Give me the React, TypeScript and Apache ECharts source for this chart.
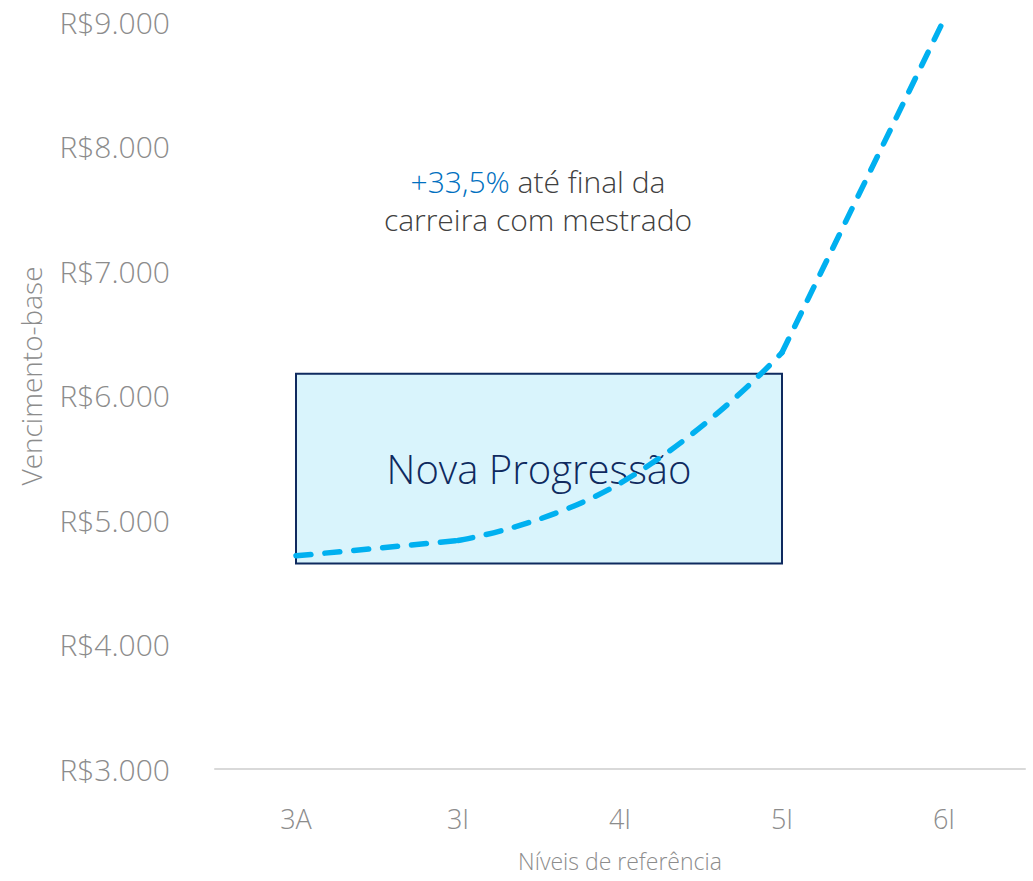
import React, { useEffect, useRef } from "react";
import * as echarts from "echarts";

const categories = ["3A", "3I", "4I", "5I", "6I"];
const salaries = [4712, 4835, 5295, 6345, 9020];
const yTicks = { min: 3000, max: 9000, interval: 1000 };
const progressionBox = { from: "3A", to: "5I", low: 4650, high: 6175, label: "Nova Progressão" };
const annotation = { highlight: "+33,5%", line1: " até final da", line2: "carreira com mestrado" };
const yAxisName = "Vencimento-base";
const xAxisName = "Níveis de referência";
// the curve is straight from 3A to 3I, smoothed from 3I to 5I, straight from 5I to 6I
const segments = [
  { from: 0, to: 1, smooth: 0 },
  { from: 1, to: 3, smooth: 0.5 },
  { from: 3, to: 4, smooth: 0 },
];

const FONT = "'Open Sans', 'Segoe UI', sans-serif";
const LINE_STYLE = { color: "#00b0f0", width: 5.5, type: [15, 14], cap: "round" };

export default function App() {
  const ref = useRef<HTMLDivElement>(null);
  useEffect(() => {
    if (!ref.current) return;
    const chart = echarts.init(ref.current, null, { renderer: "svg" });
    const lineSeries = segments.map((seg, i) => ({
      type: "line",
      name: "Vencimento-base",
      data: salaries.map((v, idx) => (idx >= seg.from && idx <= seg.to ? v : null)),
      smooth: seg.smooth,
      symbol: "none",
      z: 3,
      lineStyle: LINE_STYLE,
      ...(i === 0
        ? {
            markArea: {
              silent: true,
              z: 1,
              itemStyle: { color: "#d9f4fc", borderColor: "#0f2a5f", borderWidth: 2 },
              label: {
                show: true,
                position: "inside",
                color: "#0f2a5f",
                fontSize: 40,
                fontWeight: 300,
                fontFamily: FONT,
              },
              data: [
                [
                  { name: progressionBox.label, coord: [progressionBox.from, progressionBox.high] },
                  { coord: [progressionBox.to, progressionBox.low] },
                ],
              ],
            },
          }
        : {}),
    }));
    chart.setOption({
      animation: false,
      backgroundColor: "#ffffff",
      textStyle: { fontFamily: FONT },
      grid: { left: 215, right: 8, top: 22, bottom: 112, outerBoundsMode: "none", containLabel: false },
      xAxis: {
        type: "category",
        data: categories,
        boundaryGap: true,
        axisLine: { lineStyle: { color: "#d9d9d9", width: 2 } },
        axisTick: { show: false },
        axisLabel: { color: "#8c8c8c", fontSize: 27, fontWeight: 300, margin: 36, fontFamily: FONT },
        name: xAxisName,
        nameLocation: "middle",
        nameGap: 80,
        nameTextStyle: { color: "#8c8c8c", fontSize: 23, fontWeight: 300, fontFamily: FONT },
      },
      yAxis: {
        type: "value",
        min: yTicks.min,
        max: yTicks.max,
        interval: yTicks.interval,
        splitLine: { show: false },
        axisLine: { show: false },
        axisTick: { show: false },
        axisLabel: {
          color: "#8c8c8c",
          fontSize: 30,
          fontWeight: 300,
          margin: 45,
          fontFamily: FONT,
          formatter: (v: number) => "R$" + v.toLocaleString("de-DE"),
        },
      },
      series: lineSeries,
      graphic: [
        {
          type: "text",
          x: 538,
          y: 200,
          style: {
            text: `{b|${annotation.highlight}}{g|${annotation.line1}}\n{g|${annotation.line2}}`,
            align: "center",
            verticalAlign: "middle",
            rich: {
              b: { fill: "#0070c0", fontSize: 30, fontFamily: FONT, lineHeight: 38, fontWeight: 300 },
              g: { fill: "#404040", fontSize: 30, fontFamily: FONT, lineHeight: 38, fontWeight: 300 },
            },
          },
        },
        {
          type: "text",
          x: 31,
          y: 376,
          rotation: Math.PI / 2,
          style: {
            text: yAxisName,
            align: "center",
            verticalAlign: "middle",
            fill: "#8c8c8c",
            fontSize: 28,
            fontWeight: 300,
            fontFamily: FONT,
          },
        },
      ],
    });
    return () => chart.dispose();
  }, []);
  return (
    <div
      ref={ref}
      style={{ position: "fixed", left: 0, top: 0, width: 1033, height: 881 }}
    />
  );
}
